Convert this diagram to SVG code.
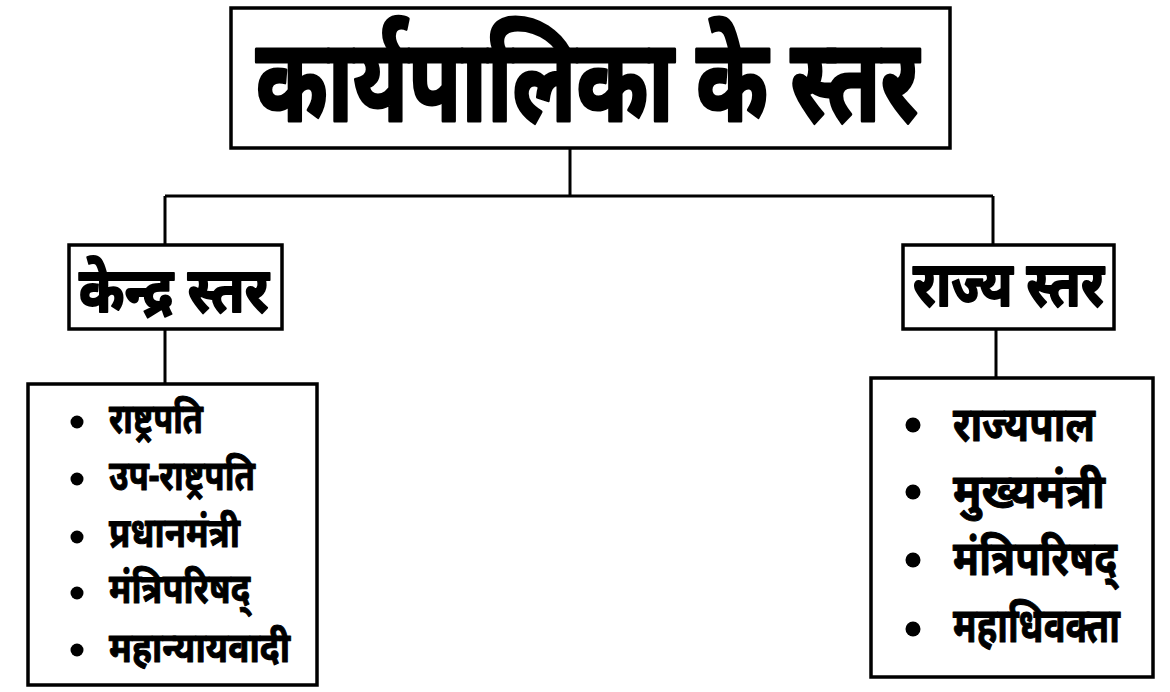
<svg xmlns="http://www.w3.org/2000/svg" width="1170" height="692" viewBox="0 0 1170 692">
<style>
.box{fill:#fff;stroke:#000;stroke-width:3.5}
.ln{fill:none;stroke:#000;stroke-width:3}
.t{font-family:"Noto Sans","DejaVu Sans",sans-serif;font-weight:bold;fill:#000;stroke:#000;stroke-linejoin:round}
.big{stroke-width:3}
.mid{stroke-width:1.8}
.sm{stroke-width:1}
.dot{fill:#000}
</style>
<rect width="1170" height="692" fill="#fff"/>
<g id="connectors">
<path class="ln" d="M570 148V196M165 196H993M165 196V245M993 196V245M165 329V384M996 329V379"/>
</g>
<g id="title">
<rect class="box" x="231" y="8" width="719" height="140"/>
<text class="t big" x="256" y="121" font-size="116" textLength="663" lengthAdjust="spacingAndGlyphs">कार्यपालिका के स्तर</text>
</g>
<g id="kendra">
<rect class="box" x="69" y="245" width="213" height="84"/>
<text class="t mid" x="79" y="312" font-size="62" textLength="190" lengthAdjust="spacingAndGlyphs">केन्द्र स्तर</text>
</g>
<g id="rajya">
<rect class="box" x="903" y="245" width="211" height="84"/>
<text class="t mid" x="913" y="306" font-size="62" textLength="191" lengthAdjust="spacingAndGlyphs">राज्य स्तर</text>
</g>
<g id="kendra-list">
<rect class="box" x="28" y="384" width="289" height="301"/>
<circle class="dot" cx="77" cy="422" r="6.5"/>
<circle class="dot" cx="77" cy="479" r="6.5"/>
<circle class="dot" cx="77" cy="537" r="6.5"/>
<circle class="dot" cx="77" cy="593" r="6.5"/>
<circle class="dot" cx="77" cy="650" r="6.5"/>
<text class="t sm" x="109" y="433" font-size="42" textLength="94" lengthAdjust="spacingAndGlyphs">राष्ट्रपति</text>
<text class="t sm" x="109" y="490" font-size="42" textLength="146" lengthAdjust="spacingAndGlyphs">उप-राष्ट्रपति</text>
<text class="t sm" x="109" y="547" font-size="42" textLength="131" lengthAdjust="spacingAndGlyphs">प्रधानमंत्री</text>
<text class="t sm" x="109" y="603" font-size="42" textLength="141" lengthAdjust="spacingAndGlyphs">मंत्रिपरिषद्</text>
<text class="t sm" x="109" y="662" font-size="42" textLength="181" lengthAdjust="spacingAndGlyphs">महान्यायवादी</text>
</g>
<g id="rajya-list">
<rect class="box" x="871" y="378" width="282" height="299"/>
<circle class="dot" cx="913" cy="425" r="7.5"/>
<circle class="dot" cx="913" cy="492" r="7.5"/>
<circle class="dot" cx="913" cy="560" r="7.5"/>
<circle class="dot" cx="913" cy="629" r="7.5"/>
<text class="t sm" x="953" y="441" font-size="48" textLength="142" lengthAdjust="spacingAndGlyphs">राज्यपाल</text>
<text class="t sm" x="953" y="508" font-size="48" textLength="152" lengthAdjust="spacingAndGlyphs">मुख्यमंत्री</text>
<text class="t sm" x="953" y="575" font-size="48" textLength="164" lengthAdjust="spacingAndGlyphs">मंत्रिपरिषद्</text>
<text class="t sm" x="953" y="642" font-size="48" textLength="167" lengthAdjust="spacingAndGlyphs">महाधिवक्ता</text>
</g>
</svg>
